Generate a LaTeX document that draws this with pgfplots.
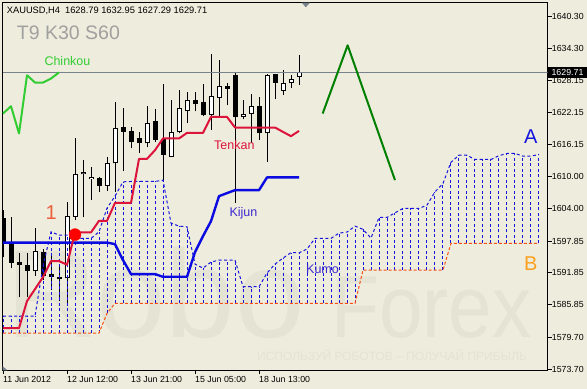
\documentclass[border=0pt]{standalone}
\usepackage{pgfplots}
\pgfplotsset{compat=1.18}
\usepackage{pgfplotstable}
\usepackage{fontspec}
\setmainfont{Liberation Sans}
\definecolor{bg}{RGB}{238,236,220}
\definecolor{wm}{RGB}{228,227,212}
\definecolor{tenkancol}{RGB}{220,20,60}
\definecolor{kijuncol}{RGB}{10,10,225}
\definecolor{chinkoucol}{RGB}{50,205,50}
\definecolor{spanacol}{RGB}{20,20,220}
\definecolor{spanbcol}{RGB}{250,80,20}
\definecolor{fcastcol}{RGB}{0,128,0}
\definecolor{plinecol}{RGB}{120,130,140}
\definecolor{labelblue}{RGB}{60,40,210}
\pgfplotsset{errbar/.style={only marks, mark size=0pt, mark options={draw=none, fill=none}, forget plot}}

\pgfplotstableread{
x O H L C
0 1602.19 1603.70 1594.83 1597.66
1 1597.72 1602.43 1592.70 1593.75
2 1593.94 1595.53 1587.28 1593.32
3 1593.32 1595.53 1587.28 1592.24
5 1595.83 1596.28 1590.49 1591.24
6 1591.62 1595.58 1588.60 1591.11
7 1591.11 1593.00 1586.53 1590.62
12 1609.74 1609.92 1607.15 1608.23
15 1619.41 1622.89 1611.11 1618.47
16 1618.66 1619.41 1615.34 1616.58
17 1617.41 1618.47 1614.51 1616.28
19 1620.49 1622.80 1616.58 1616.90
20 1617.15 1627.47 1609.36 1614.07
24 1624.40 1626.02 1622.38 1623.83
25 1624.07 1627.60 1621.43 1621.62
28 1627.09 1627.72 1623.51 1626.58
29 1629.17 1629.68 1605.02 1621.19
32 1623.32 1625.07 1616.90 1618.17
34 1629.36 1629.49 1624.77 1627.79
}\beartab

\pgfplotstableread{
x O H L C
4 1592.24 1600.24 1591.24 1595.96
8 1590.81 1605.21 1586.15 1602.57
9 1602.43 1617.23 1601.81 1610.43
10 1610.43 1613.13 1602.32 1610.81
11 1609.55 1611.87 1605.58 1609.87
13 1608.23 1613.75 1607.34 1612.51
14 1612.51 1624.13 1607.15 1619.30
18 1616.28 1623.32 1615.53 1620.24
21 1613.75 1624.58 1613.64 1618.36
22 1618.36 1626.47 1618.17 1622.89
23 1622.38 1626.02 1620.24 1624.40
26 1621.75 1633.26 1618.92 1625.21
27 1624.96 1632.00 1621.30 1627.09
30 1621.30 1624.45 1620.87 1621.94
31 1621.94 1625.58 1616.40 1623.32
33 1618.17 1629.49 1612.81 1629.17
35 1626.21 1630.24 1625.53 1627.79
36 1627.79 1629.17 1626.85 1628.55
37 1628.79 1632.95 1627.29 1629.71
}\bulltab

\pgfplotstableread{
x y
0 1581.43
1 1581.43
2 1581.43
3 1586.53
4 1588.79
5 1591.06
6 1594.07
7 1594.07
8 1593.40
9 1599.49
10 1599.49
11 1599.49
12 1601.68
13 1601.68
14 1605.07
15 1605.07
16 1605.07
17 1613.38
18 1613.38
19 1615.02
20 1617.23
21 1617.23
22 1617.23
23 1618.28
24 1618.28
25 1618.28
26 1621.30
27 1621.30
28 1621.30
29 1619.30
30 1619.30
31 1619.30
32 1619.30
33 1619.30
34 1619.30
35 1618.47
36 1617.66
37 1618.66
}\tenkantab

\pgfplotstableread{
x y
0 1597.57
13 1597.57
14 1597.28
15 1594.26
16 1591.62
19 1591.62
20 1591.11
23 1591.11
24 1595.77
25 1598.79
26 1601.62
27 1606.34
28 1606.91
29 1607.47
32 1607.47
33 1609.87
37 1609.87
}\kijuntab

\pgfplotstableread{
x y
0 1621.94
1 1623.32
2 1618.17
3 1629.17
4 1627.79
5 1627.79
6 1628.55
7 1629.71
}\chinkoutab

\pgfplotstableread{
x A B
0 1583.70 1580.49
1 1583.70 1580.49
2 1583.70 1580.49
3 1583.70 1580.49
4 1583.70 1580.49
5 1593.13 1580.49
6 1599.60 1580.49
7 1598.98 1580.49
8 1598.98 1580.49
9 1598.36 1580.49
10 1598.36 1580.49
11 1598.36 1580.49
12 1599.60 1580.49
13 1604.07 1584.21
14 1606.34 1586.09
15 1609.04 1586.09
16 1609.11 1586.09
17 1609.11 1586.09
18 1609.11 1586.09
19 1609.11 1586.09
20 1609.36 1586.09
21 1601.24 1586.09
22 1600.68 1586.09
23 1600.55 1586.09
24 1593.51 1586.09
25 1592.75 1586.09
26 1593.89 1586.09
27 1594.26 1586.09
28 1594.26 1586.09
29 1594.26 1586.09
30 1589.23 1586.09
31 1589.23 1586.09
32 1589.23 1586.09
33 1591.81 1586.09
34 1593.51 1586.09
35 1594.64 1586.09
36 1595.68 1586.09
37 1595.64 1586.09
38 1596.34 1586.09
39 1598.36 1586.09
40 1598.36 1586.09
41 1598.36 1586.09
42 1599.36 1586.09
43 1599.55 1586.09
44 1600.68 1586.09
45 1600.06 1592.38
46 1598.41 1592.38
47 1602.32 1592.38
48 1602.32 1592.38
49 1603.19 1592.38
50 1604.02 1592.38
51 1604.02 1592.38
52 1604.02 1592.38
53 1604.64 1592.38
54 1607.15 1592.38
55 1608.74 1592.38
56 1612.75 1597.41
57 1614.07 1597.41
58 1614.07 1597.41
59 1613.26 1597.41
60 1613.26 1597.41
61 1613.26 1597.41
62 1613.98 1597.41
63 1614.40 1597.41
64 1614.40 1597.41
65 1613.89 1597.41
66 1613.89 1597.41
67 1614.21 1597.41
}\kumotab

\begin{document}
\begin{tikzpicture}
\path[use as bounding box, fill=bg] (0bp,0bp) rectangle (587bp,389bp);
% watermark
\node[anchor=base west, inner sep=0pt, text=wm, font=\fontsize{125bp}{125bp}\selectfont] at (6bp,51bp) {Robo};
\node[anchor=base west, inner sep=0pt, text=wm, xscale=0.89, font=\fontsize{88bp}{88bp}\selectfont] at (331bp,51bp) {Forex};
\node[anchor=base west, inner sep=0pt, text=wm, font=\fontsize{12bp}{12bp}\selectfont] at (257bp,29bp) {ИСПОЛЬЗУЙ РОБОТОВ – ПОЛУЧАЙ ПРИБЫЛЬ};

\begin{axis}[
  at={(2.7bp,19bp)}, anchor=south west, scale only axis,
  width=545bp, height=367bp,
  xmin=-0.04, xmax=68.09, ymin=1573.51, ymax=1642.81,
  axis line style={black, line width=1bp},
  tick align=outside, major tick length=4bp,
  every tick/.style={black, line width=0.8bp},
  ytick pos=right, yticklabel pos=right,
  xtick pos=left,
  ytick={1640.30,1634.30,1628.15,1622.15,1616.15,1610.00,1604.00,1597.85,1591.85,1585.85,1579.70,1573.70},
  yticklabels={1640.30,1634.30,1628.15,1622.15,1616.15,1610.00,1604.00,1597.85,1591.85,1585.85,1579.70,1573.70},
  xtick={0,8,16,24,32},
  xticklabels={11 Jun 2012,12 Jun 12:00,13 Jun 21:00,15 Jun 05:00,18 Jun 13:00},
  yticklabel style={anchor=west, inner sep=0pt, font=\fontsize{8.8bp}{10bp}\selectfont},
  xticklabel style={anchor=north west, inner sep=0pt, yshift=-2bp, font=\fontsize{8.8bp}{10bp}\selectfont},
  minor tick num=0,
]
% candles: wicks
\addplot[errbar, error bars/.cd, y dir=plus, y explicit, error mark=none,
  error bar style={black, line width=1bp}]
  table[x=x, y=L, y error plus expr=\thisrow{H}-\thisrow{L}] {\beartab};
\addplot[errbar, error bars/.cd, y dir=plus, y explicit, error mark=none,
  error bar style={black, line width=1bp}]
  table[x=x, y=L, y error plus expr=\thisrow{H}-\thisrow{L}] {\bulltab};
% bear bodies
\addplot[errbar, error bars/.cd, y dir=plus, y explicit, error mark=none,
  error bar style={black, line width=5bp, line cap=butt}]
  table[x=x, y=C, y error plus expr=\thisrow{O}-\thisrow{C}] {\beartab};
% bull bodies
\addplot[errbar, error bars/.cd, y dir=plus, y explicit, error mark=none,
  error bar style={black, line width=5bp, line cap=butt}]
  table[x=x, y=O, y error plus expr=\thisrow{C}-\thisrow{O}] {\bulltab};
\addplot[errbar, error bars/.cd, y dir=plus, y explicit, error mark=none,
  error bar style={white, line width=3bp, line cap=butt, shorten <=1bp, shorten >=1bp}]
  table[x=x, y=O, y error plus expr=\thisrow{C}-\thisrow{O}] {\bulltab};
% kumo hatch
\addplot[errbar, error bars/.cd, y dir=plus, y explicit, error mark=none,
  error bar style={spanacol, line width=1bp, dash pattern=on 3bp off 2.5bp}]
  table[x=x, y=B, y error plus expr=\thisrow{A}-\thisrow{B}] {\kumotab};
\addplot[spanacol, line width=1bp, dash pattern=on 3bp off 2.5bp] table[x=x, y=A] {\kumotab};
\addplot[spanbcol, line width=1bp, dash pattern=on 3bp off 2bp] table[x=x, y=B] {\kumotab};
% price line
\addplot[plinecol, line width=1bp] coordinates {(-0.04,1629.71) (68.09,1629.71)};
% lines
\addplot[kijuncol, line width=2.4bp, line join=round] table[x=x, y=y] {\kijuntab};
\addplot[tenkancol, line width=2bp, line join=round] table[x=x, y=y] {\tenkantab};
\addplot[chinkoucol, line width=2bp, line join=round] table[x=x, y=y] {\chinkoutab};
\addplot[fcastcol, line width=2bp, line join=round] coordinates {(39.96,1621.94) (43.08,1634.83) (49.0,1609.36)};
\addplot[only marks, mark=*, mark size=6bp, red, mark options={draw=red, fill=red}] coordinates {(9,1599.07)};
\end{axis}

% labels
\node[anchor=base west, inner sep=0pt, font=\fontsize{9.3bp}{10bp}\selectfont] at (6.7bp,375bp) {XAUUSD,H4\hspace{5bp}1628.79 1632.95 1627.29 1629.71};
\node[anchor=base west, inner sep=0pt, text={rgb,255:red,160;green,160;blue,160}, font=\fontsize{19.5bp}{20bp}\selectfont] at (16.7bp,349bp) {T9 K30 S60};
\node[anchor=base west, inner sep=0pt, text=chinkoucol, font=\fontsize{12.5bp}{13bp}\selectfont] at (44.3bp,323bp) {Chinkou};
\node[anchor=base west, inner sep=0pt, text=tenkancol, font=\fontsize{12.5bp}{13bp}\selectfont] at (214bp,239.7bp) {Tenkan};
\node[anchor=base west, inner sep=0pt, text=labelblue, font=\fontsize{12.5bp}{13bp}\selectfont] at (229.3bp,172.5bp) {Kijun};
\node[anchor=base west, inner sep=0pt, text=labelblue, font=\fontsize{12.5bp}{13bp}\selectfont] at (306bp,115bp) {Kumo};
\node[anchor=base west, inner sep=0pt, text=spanacol, font=\fontsize{20bp}{20bp}\selectfont] at (524bp,245bp) {A};
\node[anchor=base west, inner sep=0pt, text={rgb,255:red,250;green,160;blue,30}, font=\fontsize{20bp}{20bp}\selectfont] at (524bp,118bp) {B};
\node[anchor=base west, inner sep=0pt, text={rgb,255:red,235;green,95;blue,60}, font=\fontsize{20bp}{20bp}\selectfont] at (45.5bp,169bp) {1};
% price box
\fill[black] (548bp,311bp) rectangle (587bp,321.5bp);
\node[inner sep=0pt, text=white, font=\fontsize{8.8bp}{10bp}\selectfont] at (567.5bp,316.3bp) {1629.71};
% markers
\fill[plinecol] (301.7bp,386.3bp) -- (310bp,386.3bp) -- (305.8bp,381.7bp) -- cycle;
\fill[plinecol] (2.7bp,18.5bp) -- (7.3bp,18.5bp) -- (2.7bp,23bp) -- cycle;
\end{tikzpicture}
\end{document}
